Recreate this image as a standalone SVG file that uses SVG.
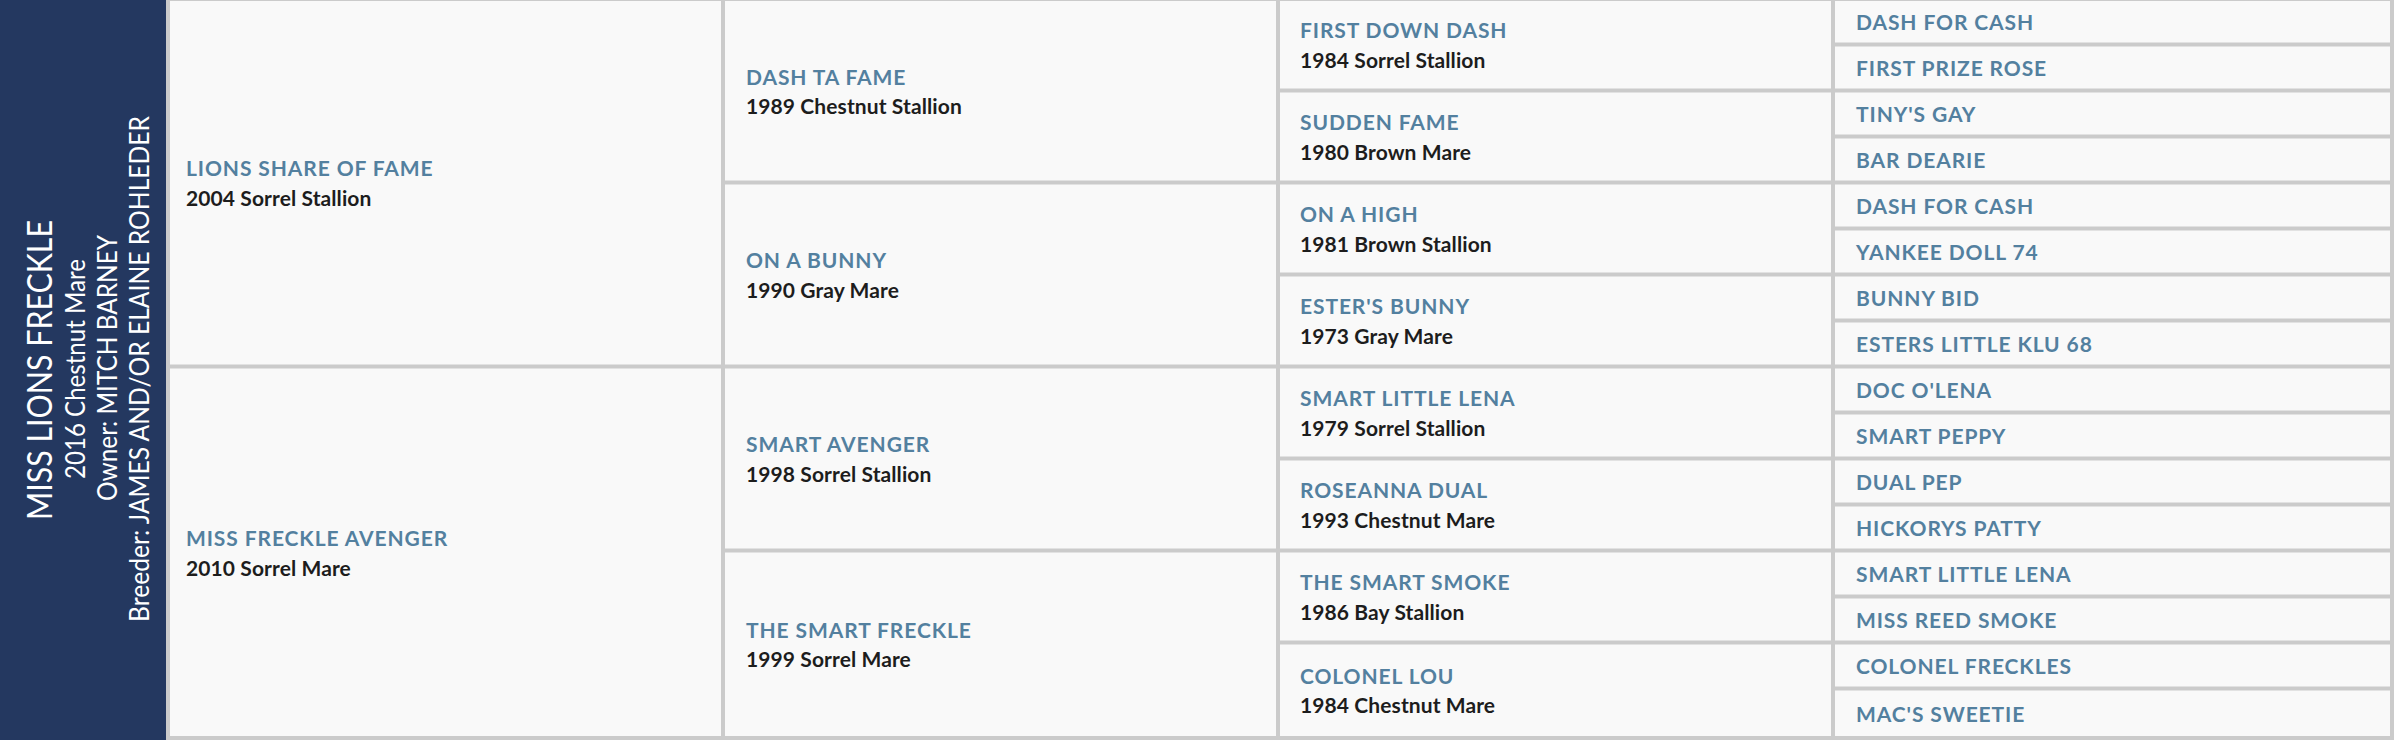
<svg xmlns="http://www.w3.org/2000/svg" width="2394" height="740" viewBox="0 0 2394 740">
<style>
.bg{fill:#cbcbcb}
.panel{fill:#243860}
.cell{fill:#f9f9f9}
.nm{font-family:Lato,"Liberation Sans",sans-serif;font-weight:700;font-size:21px;fill:#53809f;letter-spacing:0.9px}
.sb{font-family:Lato,"Liberation Sans",sans-serif;font-weight:700;font-size:21px;fill:#1d1d1d;letter-spacing:0.1px}
.hd{font-family:Lato,"Liberation Sans",sans-serif;font-weight:400;fill:#ffffff;text-anchor:middle}
</style>
<rect class="bg" x="0" y="0" width="2394" height="740"/>
<g id="subject">
<rect class="panel" x="0" y="0" width="166" height="740"/>
<text class="hd" font-size="34" transform="translate(52,370) rotate(-90)" textLength="300" lengthAdjust="spacingAndGlyphs">MISS LIONS FRECKLE</text>
<text class="hd" font-size="27" transform="translate(85,369) rotate(-90)" textLength="220" lengthAdjust="spacingAndGlyphs">2016 Chestnut Mare</text>
<text class="hd" font-size="27" transform="translate(117,368) rotate(-90)" textLength="266" lengthAdjust="spacingAndGlyphs">Owner: MITCH BARNEY</text>
<text class="hd" font-size="27" transform="translate(149,369) rotate(-90)" textLength="506" lengthAdjust="spacingAndGlyphs">Breeder: JAMES AND/OR ELAINE ROHLEDER</text>
</g>
<g id="gen1">
<g id="sire"><rect class="cell" x="170" y="1" width="551" height="363.5"/><text class="nm" x="186" y="176">LIONS SHARE OF FAME</text><text class="sb" x="186" y="206">2004 Sorrel Stallion</text></g>
<g id="dam"><rect class="cell" x="170" y="368.5" width="551" height="367.5"/><text class="nm" x="186" y="545.5">MISS FRECKLE AVENGER</text><text class="sb" x="186" y="575.5">2010 Sorrel Mare</text></g>
</g>
<g id="gen2">
<g id="ss"><rect class="cell" x="725" y="1" width="551" height="179.5"/><text class="nm" x="746" y="84.5">DASH TA FAME</text><text class="sb" x="746" y="114">1989 Chestnut Stallion</text></g>
<g id="sd"><rect class="cell" x="725" y="184.5" width="551" height="180"/><text class="nm" x="746" y="268">ON A BUNNY</text><text class="sb" x="746" y="297.5">1990 Gray Mare</text></g>
<g id="ds"><rect class="cell" x="725" y="368.5" width="551" height="180"/><text class="nm" x="746" y="452">SMART AVENGER</text><text class="sb" x="746" y="481.5">1998 Sorrel Stallion</text></g>
<g id="dd"><rect class="cell" x="725" y="552.5" width="551" height="183.5"/><text class="nm" x="746" y="637.75">THE SMART FRECKLE</text><text class="sb" x="746" y="667.25">1999 Sorrel Mare</text></g>
</g>
<g id="gen3">
<g id="sss"><rect class="cell" x="1280" y="1" width="551" height="87.5"/><text class="nm" x="1300" y="38.25">FIRST DOWN DASH</text><text class="sb" x="1300" y="67.75">1984 Sorrel Stallion</text></g>
<g id="ssd"><rect class="cell" x="1280" y="92.5" width="551" height="88"/><text class="nm" x="1300" y="130">SUDDEN FAME</text><text class="sb" x="1300" y="159.5">1980 Brown Mare</text></g>
<g id="sds"><rect class="cell" x="1280" y="184.5" width="551" height="88"/><text class="nm" x="1300" y="222">ON A HIGH</text><text class="sb" x="1300" y="251.5">1981 Brown Stallion</text></g>
<g id="sdd"><rect class="cell" x="1280" y="276.5" width="551" height="88"/><text class="nm" x="1300" y="314">ESTER'S BUNNY</text><text class="sb" x="1300" y="343.5">1973 Gray Mare</text></g>
<g id="dss"><rect class="cell" x="1280" y="368.5" width="551" height="88"/><text class="nm" x="1300" y="406">SMART LITTLE LENA</text><text class="sb" x="1300" y="435.5">1979 Sorrel Stallion</text></g>
<g id="dsd"><rect class="cell" x="1280" y="460.5" width="551" height="88"/><text class="nm" x="1300" y="498">ROSEANNA DUAL</text><text class="sb" x="1300" y="527.5">1993 Chestnut Mare</text></g>
<g id="dds"><rect class="cell" x="1280" y="552.5" width="551" height="88"/><text class="nm" x="1300" y="590">THE SMART SMOKE</text><text class="sb" x="1300" y="619.5">1986 Bay Stallion</text></g>
<g id="ddd"><rect class="cell" x="1280" y="644.5" width="551" height="91.5"/><text class="nm" x="1300" y="683.75">COLONEL LOU</text><text class="sb" x="1300" y="713.25">1984 Chestnut Mare</text></g>
</g>
<g id="gen4">
<g id="g4-0"><rect class="cell" x="1835" y="1" width="555" height="41.5"/><text class="nm" x="1856" y="29.5">DASH FOR CASH</text></g>
<g id="g4-1"><rect class="cell" x="1835" y="46.5" width="555" height="42"/><text class="nm" x="1856" y="75.5">FIRST PRIZE ROSE</text></g>
<g id="g4-2"><rect class="cell" x="1835" y="92.5" width="555" height="42"/><text class="nm" x="1856" y="121.5">TINY'S GAY</text></g>
<g id="g4-3"><rect class="cell" x="1835" y="138.5" width="555" height="42"/><text class="nm" x="1856" y="167.5">BAR DEARIE</text></g>
<g id="g4-4"><rect class="cell" x="1835" y="184.5" width="555" height="42"/><text class="nm" x="1856" y="213.5">DASH FOR CASH</text></g>
<g id="g4-5"><rect class="cell" x="1835" y="230.5" width="555" height="42"/><text class="nm" x="1856" y="259.5">YANKEE DOLL 74</text></g>
<g id="g4-6"><rect class="cell" x="1835" y="276.5" width="555" height="42"/><text class="nm" x="1856" y="305.5">BUNNY BID</text></g>
<g id="g4-7"><rect class="cell" x="1835" y="322.5" width="555" height="42"/><text class="nm" x="1856" y="351.5">ESTERS LITTLE KLU 68</text></g>
<g id="g4-8"><rect class="cell" x="1835" y="368.5" width="555" height="42"/><text class="nm" x="1856" y="397.5">DOC O'LENA</text></g>
<g id="g4-9"><rect class="cell" x="1835" y="414.5" width="555" height="42"/><text class="nm" x="1856" y="443.5">SMART PEPPY</text></g>
<g id="g4-10"><rect class="cell" x="1835" y="460.5" width="555" height="42"/><text class="nm" x="1856" y="489.5">DUAL PEP</text></g>
<g id="g4-11"><rect class="cell" x="1835" y="506.5" width="555" height="42"/><text class="nm" x="1856" y="535.5">HICKORYS PATTY</text></g>
<g id="g4-12"><rect class="cell" x="1835" y="552.5" width="555" height="42"/><text class="nm" x="1856" y="581.5">SMART LITTLE LENA</text></g>
<g id="g4-13"><rect class="cell" x="1835" y="598.5" width="555" height="42"/><text class="nm" x="1856" y="627.5">MISS REED SMOKE</text></g>
<g id="g4-14"><rect class="cell" x="1835" y="644.5" width="555" height="42"/><text class="nm" x="1856" y="673.5">COLONEL FRECKLES</text></g>
<g id="g4-15"><rect class="cell" x="1835" y="690.5" width="555" height="45.5"/><text class="nm" x="1856" y="721.5">MAC'S SWEETIE</text></g>
</g>
</svg>
